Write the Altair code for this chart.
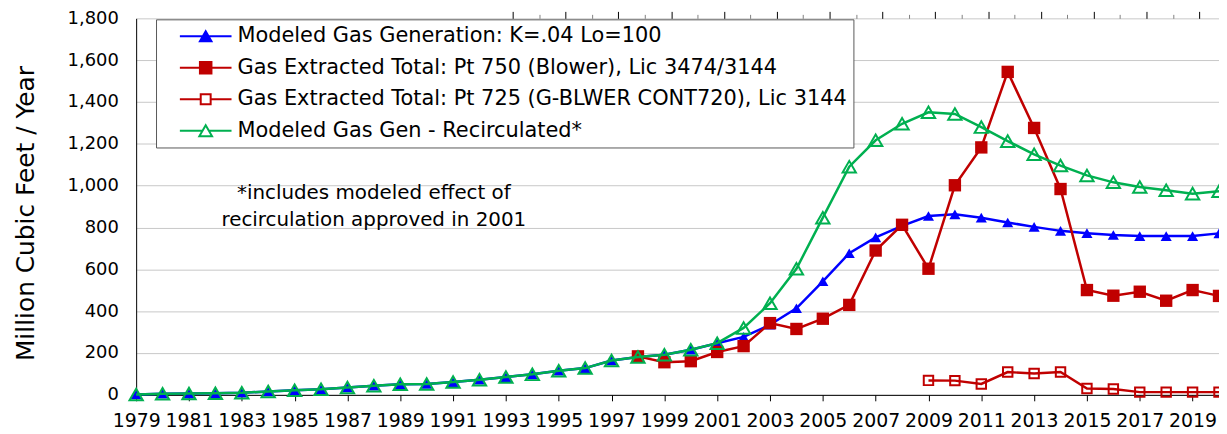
import altair as alt
import pandas as pd

# ---------------- data ----------------
years = list(range(1979, 2021))
modeled_gen = [2, 5, 6, 8, 10, 16, 22, 27, 35, 44, 51, 52, 61, 72, 85, 98, 115, 128, 164, 181,
               192, 216, 247, 277, 335, 414, 543, 677, 753, 808, 855, 863, 847, 824, 803, 784,
               773, 764, 759, 759, 759, 772]
recirculated = [2, 5, 6, 8, 10, 16, 22, 27, 35, 44, 51, 52, 61, 72, 85, 98, 115, 128, 164, 181,
                192, 216, 247, 320, 438, 603, 847, 1091, 1217, 1296, 1351, 1343, 1280, 1213, 1150,
                1096, 1049, 1016, 994, 978, 962, 973]
pt750_years = list(range(1998, 2021))
pt750 = [184, 156, 161, 205, 233, 343, 315, 364, 430, 690, 813, 603, 1002, 1183, 1544, 1276,
         984, 501, 474, 493, 450, 501, 473]
pt725_years = list(range(2009, 2021))
pt725 = [69, 68, 52, 109, 102, 109, 30, 28, 13, 13, 13, 13]

series_names = [
    "Modeled Gas Generation: K=.04 Lo=100",
    "Gas Extracted Total: Pt 750 (Blower), Lic 3474/3144",
    "Gas Extracted Total: Pt 725 (G-BLWER CONT720), Lic 3144",
    "Modeled Gas Gen - Recirculated*",
]
series_colors = ["#0000FF", "#C00000", "#C00000", "#00B050"]
legend_fills = ["#0000FF", "#C00000", "white", "white"]
legend_paths = [
    "M-2.6,0H2.6M0,-0.5L0.58,0.5H-0.58Z",
    "M-2.6,0H2.6M-0.58,-0.58H0.58V0.58H-0.58Z",
    "M-2.6,0H-0.5M0.5,0H2.6M-0.5,-0.5H0.5V0.5H-0.5Z",
    "M-2.6,0H-0.32M0.32,0H2.6M0,-0.56L0.64,0.56H-0.64Z",
]

x_ticks_major = list(range(1979, 2020, 2))
x_ticks_all = list(range(1979, 2021))
y_ticks_major = list(range(0, 1801, 200))
y_ticks_minor = list(range(0, 1801, 40))

note_lines = ["*includes modeled effect of", "recirculation approved in 2001"]
note_year = [1988.0]
note_value = [965]

FONT = "DejaVu Sans"
W, H = 1090, 379

# ---------------- tables ----------------
frames = [
    pd.DataFrame({"year": years, "value": modeled_gen, "series": series_names[0]}),
    pd.DataFrame({"year": pt750_years, "value": pt750, "series": series_names[1]}),
    pd.DataFrame({"year": pt725_years, "value": pt725, "series": series_names[2]}),
    pd.DataFrame({"year": years, "value": recirculated, "series": series_names[3]}),
]
df = pd.concat(frames, ignore_index=True)
legend_df = pd.DataFrame({"series": series_names})
note_df = pd.DataFrame({"year": note_year, "value": note_value, "text": [note_lines]})

xscale = alt.Scale(domain=[1979, 2020], nice=False, zero=False)
yscale = alt.Scale(domain=[0, 1800], nice=False, zero=False)

main_x_axis = alt.Axis(values=x_ticks_major, format="d", labelFont=FONT, labelFontSize=19,
                       labelColor="black", tickColor="black", tickSize=6, tickWidth=1,
                       domainColor="black", domainWidth=1, labelPadding=11, grid=False,
                       labelOverlap=False, labelFlush=False, title=None)
main_y_axis = alt.Axis(values=y_ticks_major, format=",d", labelFont=FONT, labelFontSize=18,
                       labelColor="black", ticks=False, labelPadding=18, grid=True,
                       gridColor="#C8C8C8", gridWidth=1, domainColor="black", domainWidth=1,
                       title="Million Cubic Feet / Year", titleFont=FONT, titleFontSize=25,
                       titleFontWeight="normal", titleColor="black", titlePadding=29,
                       titleY=196)

base = alt.Chart(df)
layers = []
mark_styles = [
    dict(shape="triangle-up", filled=True, size=125),
    dict(shape="square", filled=True, size=155),
    dict(shape="square", filled=False, size=90, strokeWidth=2),
    dict(shape="triangle-up", filled=False, size=180, strokeWidth=2),
]
for i, name in enumerate(series_names):
    sub = base.transform_filter(alt.datum.series == name)
    xa = main_x_axis if i == 0 else None
    ya = main_y_axis if i == 0 else None
    line = sub.mark_line(color=series_colors[i], strokeWidth=2.5).encode(
        x=alt.X("year:Q", scale=xscale, axis=xa),
        y=alt.Y("value:Q", scale=yscale, axis=ya),
    )
    pts = sub.mark_point(color=series_colors[i], opacity=1, **mark_styles[i]).encode(
        x=alt.X("year:Q", scale=xscale, axis=None),
        y=alt.Y("value:Q", scale=yscale, axis=None),
    )
    layers += [line, pts]

leg = alt.Legend(title=None, orient="none", legendX=20, legendY=1, padding=6,
                 strokeColor="#595959", fillColor="white", labelFont=FONT, labelFontSize=21,
                 labelColor="black", symbolSize=400, symbolStrokeWidth=2, symbolOffset=33,
                 labelOffset=21, rowPadding=10.7, labelLimit=1000, symbolOpacity=1,
                 labelExpr="datum.label + '\u00a0\u00a0\u00a0'")
legend_layer = alt.Chart(legend_df).mark_point(opacity=0, size=400, strokeWidth=2).encode(
    shape=alt.Shape("series:N", scale=alt.Scale(domain=series_names, range=legend_paths), legend=leg),
    fill=alt.Fill("series:N", scale=alt.Scale(domain=series_names, range=legend_fills), legend=leg),
    stroke=alt.Stroke("series:N", scale=alt.Scale(domain=series_names, range=series_colors), legend=leg),
)

inner_x_axis = alt.Axis(orient="top", position=H, values=x_ticks_all, labels=False, domain=False,
                        grid=False, title=None, tickWidth=1,
                        tickSize={"condition": {"test": "datum.value % 2 == 1", "value": 7}, "value": 4},
                        tickColor={"condition": {"test": "datum.value % 2 == 1", "value": "black"}, "value": "#808080"})
inner_y_axis = alt.Axis(orient="right", position=0, values=y_ticks_minor, labels=False, domain=False,
                        grid=False, title=None, tickSize=5, tickColor="#404040", tickWidth=1)
note = alt.Chart(note_df).mark_text(font=FONT, fontSize=20, lineHeight=27, align="center",
                                    baseline="middle", color="black").encode(
    x=alt.X("year:Q", scale=xscale, axis=inner_x_axis),
    y=alt.Y("value:Q", scale=yscale, axis=inner_y_axis),
    text="text",
)

chart = alt.layer(*layers, note, legend_layer).resolve_axis(
    x="independent", y="independent"
).properties(
    width=W, height=H,
    autosize=alt.AutoSizeParams(type="none"),
    padding={"left": 129, "top": 9, "right": 0, "bottom": 38},
).configure_view(stroke=None)

chart.save("out.html", embed_options={"renderer": "svg", "actions": False})
